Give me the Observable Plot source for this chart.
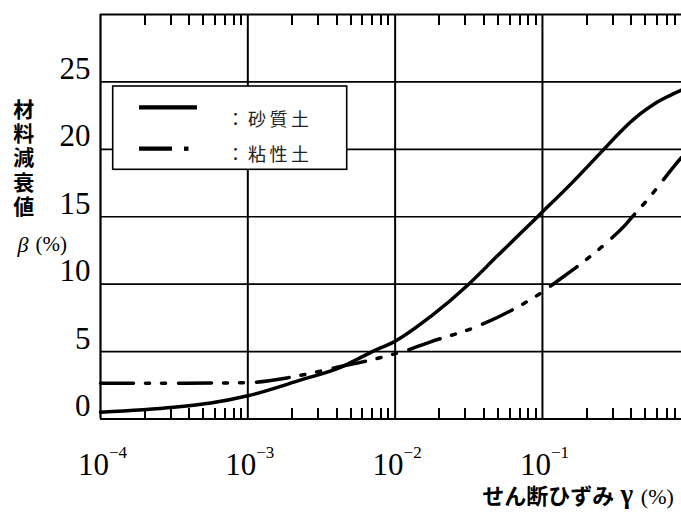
<!DOCTYPE html>
<html><head><meta charset="utf-8">
<script src="https://cdn.jsdelivr.net/npm/d3@7"></script>
<script src="https://cdn.jsdelivr.net/npm/@observablehq/plot@0.6"></script>
<style>html,body{margin:0;padding:0;background:#fff;}</style>
</head><body><div id="chart"></div>
<script>
// ---- data ----
const sandStrain  = [1e-4, 3.16e-4, 5.6e-4, 1e-3, 2.3e-3, 4.3e-3, 7e-3, 1e-2, 1.74e-2, 3.16e-2, 4.93e-2, 9.46e-2, 0.155, 0.261, 0.339, 0.39, 0.463, 0.571, 0.703, 0.879];
const sandDamping = [0.5, 0.87, 1.18, 1.72, 2.9, 3.85, 5.0, 5.77, 7.6, 10.0, 12.08, 15.1, 17.4, 20.0, 21.3, 21.95, 22.65, 23.35, 23.9, 24.4];
const clayStrain  = [1e-4, 3.16e-4, 1e-3, 1.86e-3, 2.88e-3, 4.27e-3, 5.82e-3, 9.3e-3, 1.15e-2, 1.74e-2, 3.63e-2, 8.3e-2, 0.102, 0.12, 0.182, 0.261, 0.367, 0.428, 0.503, 0.586, 0.789, 0.879];
const clayDamping = [2.65, 2.65, 2.7, 3.05, 3.47, 3.9, 4.2, 4.75, 5.03, 5.72, 6.88, 8.86, 9.48, 10.05, 11.5, 12.9, 14.42, 15.26, 16.12, 17.0, 18.8, 19.4];
const yTicks   = [0, 5, 10, 15, 20, 25];
const xDecades = [1e-4, 1e-3, 1e-2, 1e-1];
const minorMultipliers = [2, 3, 4, 5, 6, 7, 8, 9];
const seriesNames = ["砂質土", "粘性土"];
const yTitle = "材料減衰値";
const yUnitSymbol = "β";
const unitText = "(%)";
const xTitle = "せん断ひずみ";
const xSymbol = "γ";

// ---- build tables ----
const sand = sandStrain.map((s, i) => ({strain: s, damping: sandDamping[i]}));
const clay = clayStrain.map((s, i) => ({strain: s, damping: clayDamping[i]}));
const xMax = 0.879, yMax = 30;
const minorTicks = xDecades.flatMap(d => minorMultipliers.map(m => d * m)).filter(v => v < xMax);

const W = 681, H = 512, mL = 100, mT = 14, mB = 512 - 418.5;
const innerH = H - mT - mB;
const tickLen = yMax * 11 / innerH; // 11px in y units
const serif = "Liberation Serif, Times New Roman, serif";
const cjk = "Noto Sans CJK JP, sans-serif";

const chart = Plot.plot({
  width: W, height: H,
  marginLeft: mL, marginRight: 0, marginTop: mT, marginBottom: mB,
  style: {background: "#fff", color: "#000"},
  x: {type: "log", domain: [1e-4, xMax]},
  y: {domain: [0, yMax]},
  marks: [
    Plot.ruleY(yTicks.filter(d => d > 0), {stroke: "#000", strokeWidth: 1.6}),
    Plot.ruleX(xDecades.slice(1), {stroke: "#000", strokeWidth: 2}),
    Plot.ruleX(minorTicks, {y1: 0, y2: tickLen, stroke: "#000", strokeWidth: 2, shapeRendering: "crispEdges"}),
    Plot.ruleX(minorTicks, {y1: yMax - tickLen, y2: yMax, stroke: "#000", strokeWidth: 2, shapeRendering: "crispEdges"}),
    Plot.ruleY([0, yMax], {stroke: "#000", strokeWidth: 2.2}),
    Plot.ruleX([1e-4], {stroke: "#000", strokeWidth: 2.2}),
    Plot.line(sand, {x: "strain", y: "damping", curve: "monotone-x", stroke: "#000", strokeWidth: 3.5}),
    Plot.line(clay, {x: "strain", y: "damping", curve: "monotone-x", stroke: "#000", strokeWidth: 3.5, strokeDasharray: "33,12,4,12,4,13"}),
    Plot.axisY(yTicks, {tickSize: 0, tickPadding: 10, fontSize: 31, fontFamily: serif, dy: -13, label: null}),
    Plot.axisX(xDecades, {tickSize: 0, tickPadding: 34, fontSize: 31, fontFamily: serif, dx: 2,
      tickFormat: d => "10^" + Math.round(Math.log10(d)), label: null}),
    Plot.text([yTitle.split("").join("\n")], {frameAnchor: "left", dx: -76.7, dy: -59, textAnchor: "middle",
      lineHeight: 1.15, fontSize: 21, fontWeight: "bold", fontFamily: cjk, fill: "#000"}),
    Plot.text([yUnitSymbol], {frameAnchor: "left", dx: -83, dy: 28, textAnchor: "start", fontSize: 22, fontStyle: "italic", fontFamily: serif, fill: "#000"}),
    Plot.text([unitText], {frameAnchor: "left", dx: -65, dy: 28, textAnchor: "start", fontSize: 21, fontFamily: serif, fill: "#000"}),
    Plot.text([xTitle], {frameAnchor: "bottom-left", dx: 381.7, dy: 84.5, textAnchor: "start", fontSize: 22, fontWeight: "bold", fontFamily: cjk, fill: "#000"}),
    Plot.text([xSymbol], {frameAnchor: "bottom-left", dx: 520, dy: 83.5, textAnchor: "start", fontSize: 27, fontWeight: "bold", fontFamily: serif, fill: "#000"}),
    Plot.text([unitText], {frameAnchor: "bottom-right", dx: -7.7, dy: 84.5, textAnchor: "end", fontSize: 22, fontFamily: serif, fill: "#000"})
  ]
});

const svg = d3.select(chart);
// superscript exponents on x tick labels
svg.selectAll('g[aria-label="x-axis tick label"] text').each(function() {
  const t = d3.select(this);
  const s = t.text();
  const exp = s.split("^")[1].replace("-", "\u2212");
  t.text("10");
  t.append("tspan").attr("dy", -17).attr("font-size", 17).text(exp);
});

// legend
const lg = svg.append("g").attr("class", "legend").attr("text-anchor", "start");
lg.append("rect").attr("x", 112.7).attr("y", 86).attr("width", 234).attr("height", 83.3)
  .attr("fill", "#fff").attr("stroke", "#000").attr("stroke-width", 1.6);
lg.append("line").attr("x1", 139).attr("x2", 197).attr("y1", 107.3).attr("y2", 107.3)
  .attr("stroke", "#000").attr("stroke-width", 4.3);
lg.append("line").attr("x1", 139).attr("x2", 172).attr("y1", 148.7).attr("y2", 148.7)
  .attr("stroke", "#000").attr("stroke-width", 4.3);
lg.append("line").attr("x1", 184).attr("x2", 188.5).attr("y1", 148.7).attr("y2", 148.7)
  .attr("stroke", "#000").attr("stroke-width", 4.3);
[117.5, 153].forEach((y, i) => {
  lg.append("text").attr("x", 226.5).attr("y", y).attr("dominant-baseline", "central")
    .attr("text-anchor", "start")
    .attr("font-family", cjk).attr("font-size", 18).attr("letter-spacing", 3.5)
    .attr("fill", "#222").text("：" + seriesNames[i]);
});

document.getElementById("chart").appendChild(chart);
</script>
</body></html>
